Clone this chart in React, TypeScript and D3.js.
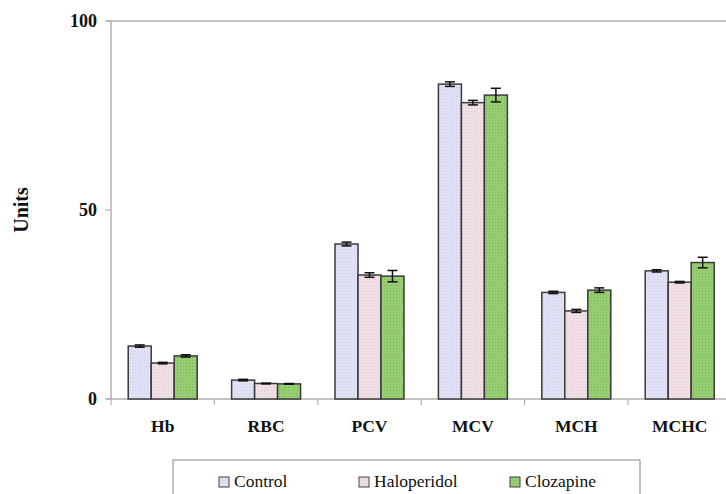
import React from "react";
import * as d3 from "d3";

const categories = ["Hb", "RBC", "PCV", "MCV", "MCH", "MCHC"];
const seriesNames = ["Control", "Haloperidol", "Clozapine"];
const controlValues = [14.0, 5.0, 41.0, 83.3, 28.2, 33.9];
const haloperidolValues = [9.5, 4.1, 32.8, 78.4, 23.3, 30.9];
const clozapineValues = [11.4, 4.0, 32.5, 80.4, 28.8, 36.1];
const controlErrors = [0.3, 0.2, 0.5, 0.6, 0.3, 0.3];
const haloperidolErrors = [0.2, 0.1, 0.6, 0.6, 0.4, 0.2];
const clozapineErrors = [0.3, 0.1, 1.5, 1.8, 0.6, 1.4];
const yTicks = [0, 50, 100];

const seriesValues = [controlValues, haloperidolValues, clozapineValues];
const seriesErrors = [controlErrors, haloperidolErrors, clozapineErrors];
const fills = ["#e4e4f7", "#f3e2e8", "#9cd277"];
const dots = ["#c8c8e6", "#dcc4cc", "#6fae4c"];

export default function App() {
  const W = 726, H = 494;
  const x0 = 111, x1 = 731.4;
  const y = d3.scaleLinear().domain([0, 100]).range([399, 21]);
  const xBand = d3.scaleBand<string>().domain(categories).range([x0, x1]).paddingInner(0.333).paddingOuter(0.1665);
  const xInner = d3.scaleBand<string>().domain(seriesNames).range([0, xBand.bandwidth()]);
  const step = xBand.step();
  const tf: React.CSSProperties = { fontFamily: "Liberation Serif, DejaVu Serif, Times New Roman, serif" };

  return (
    <svg width={W} height={H} style={{ position: "absolute", left: 0, top: 0 }}>
      <defs>
        {fills.map((f, i) => (
          <pattern key={i} id={`pat${i}`} width={3} height={3} patternUnits="userSpaceOnUse">
            <rect width={3} height={3} fill={f} />
            <rect x={0} y={0} width={1} height={1} fill={dots[i]} />
            <rect x={1.5} y={1.5} width={1} height={1} fill={dots[i]} opacity={0.6} />
          </pattern>
        ))}
      </defs>
      <rect width={W} height={H} fill="#fff" />
      <line x1={x0 - 4} x2={W} y1={y(100)} y2={y(100)} stroke="#8a8a8a" strokeWidth={1.2} />
      <line x1={x0} x2={x0} y1={y(100)} y2={y(0)} stroke="#b0b0b0" strokeWidth={1.5} />
      {yTicks.map((t) => (
        <g key={t}>
          <line x1={x0 - 6} x2={x0} y1={y(t)} y2={y(t)} stroke="#b0b0b0" strokeWidth={1.2} />
          <text x={x0 - 14} y={y(t)} dy="0.35em" textAnchor="end" style={tf} fontSize={18} fontWeight="bold" fill="#111">{t}</text>
        </g>
      ))}
      <text transform={`translate(28,${y(50)}) rotate(-90)`} textAnchor="middle" style={tf} fontSize={20} fontWeight="bold" fill="#111">Units</text>
      <line x1={x0 - 4} x2={W} y1={y(0)} y2={y(0)} stroke="#b0b0b0" strokeWidth={1.5} />
      {categories.map((c, i) => (
        <line key={c} x1={x0 + i * step} x2={x0 + i * step} y1={y(0)} y2={y(0) + 6} stroke="#b0b0b0" strokeWidth={1.2} />
      ))}
      {categories.map((c) => (
        <text key={c} x={(xBand(c) as number) + xBand.bandwidth() / 2} y={432} textAnchor="middle" style={tf} fontSize={17.5} fontWeight="bold" fill="#111">{c}</text>
      ))}
      {categories.map((c, ci) => (
        <g key={c}>
          {seriesNames.map((s, si) => {
            const v = seriesValues[si][ci];
            const bx = (xBand(c) as number) + (xInner(s) as number);
            const bw = xInner.bandwidth();
            return (
              <rect key={s} x={bx} y={y(v)} width={bw} height={y(0) - y(v)} fill={`url(#pat${si})`} stroke="#3a3a3a" strokeWidth={1.5} />
            );
          })}
          {seriesNames.map((s, si) => {
            const v = seriesValues[si][ci];
            const e = seriesErrors[si][ci];
            const cx = (xBand(c) as number) + (xInner(s) as number) + xInner.bandwidth() / 2;
            return (
              <g key={s} stroke="#111" strokeWidth={1.5}>
                <line x1={cx} x2={cx} y1={y(v + e)} y2={y(v - e)} />
                <line x1={cx - 5} x2={cx + 5} y1={y(v + e)} y2={y(v + e)} />
                <line x1={cx - 5} x2={cx + 5} y1={y(v - e)} y2={y(v - e)} />
              </g>
            );
          })}
        </g>
      ))}
      <rect x={173} y={460} width={467} height={50} fill="#fff" stroke="#9a9a9a" strokeWidth={1.2} />
      {seriesNames.map((s, si) => {
        const lx = [219, 359, 510][si];
        return (
          <g key={s}>
            <rect x={lx} y={477} width={10} height={10} fill={`url(#pat${si})`} stroke="#444" strokeWidth={1} />
            <text x={lx + 15} y={487} style={tf} fontSize={17.5} fill="#111">{s}</text>
          </g>
        );
      })}
    </svg>
  );
}
